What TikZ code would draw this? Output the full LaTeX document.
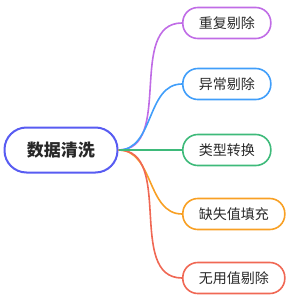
\documentclass[tikz,border=0pt]{standalone}
\usepackage{fontspec}
\setmainfont{Noto Sans CJK SC}
\usepackage{tikz}
\usetikzlibrary{positioning}

\definecolor{rootblue}{RGB}{88,92,242}
\definecolor{cpurple}{RGB}{192,108,230}
\definecolor{cblue}{RGB}{64,158,250}
\definecolor{cgreen}{RGB}{62,186,122}
\definecolor{corange}{RGB}{248,160,36}
\definecolor{cred}{RGB}{240,104,84}
\definecolor{txt}{RGB}{40,40,40}

\tikzset{
  rootbox/.style={draw=rootblue, line width=2pt, rounded corners=22pt,
    minimum width=113pt, minimum height=45pt, inner sep=0pt,
    font=\fontsize{17}{20}\selectfont\bfseries, text=txt},
  leafbox/.style={draw=#1, line width=1.6pt, rounded corners=15pt,
    minimum height=31pt, inner xsep=16pt, inner ysep=0pt,
    font=\fontsize{14}{17}\selectfont, text=txt, anchor=west},
  branch/.style={draw=#1, line width=1.6pt}
}

\begin{document}
\begin{tikzpicture}[x=1pt, y=-1pt]
\useasboundingbox (0,0) rectangle (290,300);

% root
\node[rootbox] (root) at (61,150) {数据清洗};

% leaves
\node[leafbox=cpurple] (dup) at (182,23) {重复剔除};
\node[leafbox=cblue] (outl) at (182,84) {异常剔除};
\node[leafbox=cgreen] (conv) at (182,150) {类型转换};
\node[leafbox=corange] (miss) at (182,214) {缺失值填充};
\node[leafbox=cred] (unused) at (182,278) {无用值剔除};

% branches
\draw[branch=cpurple] (root.east) to[out=0, in=180] (dup.west);
\draw[branch=cblue] (root.east) to[out=0, in=180] (outl.west);
\draw[branch=corange] (root.east) to[out=0, in=180] (miss.west);
\draw[branch=cred] (root.east) to[out=0, in=180] (unused.west);
\draw[branch=cgreen] (root.east) -- (conv.west);

\end{tikzpicture}
\end{document}
